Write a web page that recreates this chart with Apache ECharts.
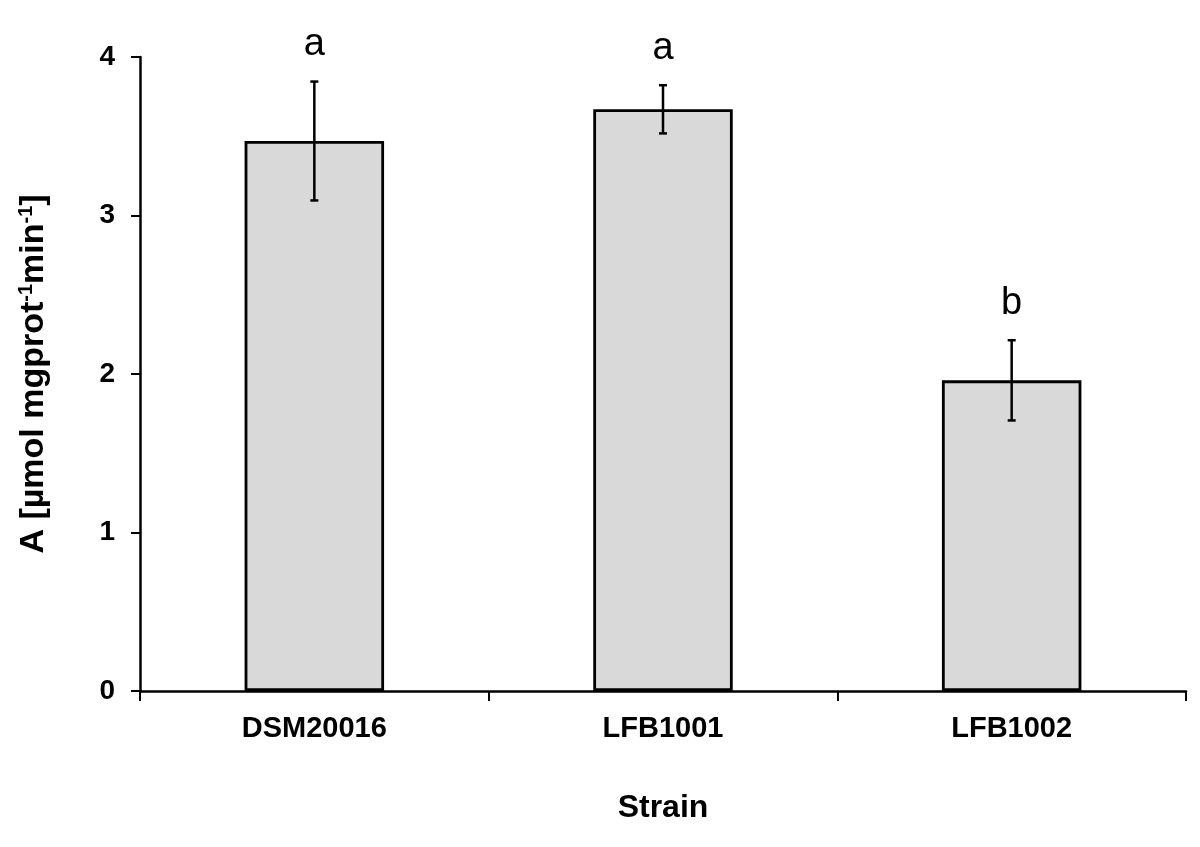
<!DOCTYPE html>
<html>
<head>
<meta charset="utf-8">
<script src="https://cdn.jsdelivr.net/npm/echarts@6/dist/echarts.min.js"></script>
<style>html,body{margin:0;padding:0;background:#fff;}#c{width:1200px;height:847px;}</style>
</head>
<body>
<div id="c"></div>
<script>
const categories = ['DSM20016', 'LFB1001', 'LFB1002'];
const means = [3.47, 3.67, 1.96];
const errors = [0.375, 0.152, 0.253];
const letters = ['a', 'a', 'b'];
const yTicks = [0, 1, 2, 3, 4];

const FONT = '"Liberation Sans", Arial, sans-serif';
const errData = categories.map((c, i) => [i, means[i] - errors[i], means[i] + errors[i], letters[i]]);

const chart = echarts.init(document.getElementById('c'));
chart.setOption({
  backgroundColor: '#fff',
  animation: false,
  grid: { left: 140, right: 14, top: 57, bottom: 156 },
  xAxis: {
    type: 'category',
    data: categories,
    axisLine: { show: true, lineStyle: { color: '#000', width: 2.5 } },
    axisTick: { show: true, interval: 0, alignWithLabel: false, length: 10, lineStyle: { color: '#000', width: 2 } },
    axisLabel: { color: '#000', fontFamily: FONT, fontWeight: 'bold', fontSize: 29, margin: 23 },
    name: 'Strain',
    nameLocation: 'middle',
    nameGap: 101,
    nameTextStyle: { color: '#000', fontFamily: FONT, fontWeight: 'bold', fontSize: 32 }
  },
  yAxis: {
    type: 'value',
    min: yTicks[0], max: yTicks[yTicks.length - 1], interval: 1,
    splitLine: { show: false },
    axisLine: { show: true, lineStyle: { color: '#000', width: 2.5 } },
    axisTick: { show: true, length: 9, lineStyle: { color: '#000', width: 2 } },
    axisLabel: { color: '#000', fontFamily: FONT, fontWeight: 'bold', fontSize: 28, margin: 25 },
    name: '{n|A [µmol mgprot}{s|-1}{n|min}{s|-1}{n|]}',
    nameLocation: 'middle',
    nameGap: 89,
    nameTextStyle: {
      rich: {
        n: { color: '#000', fontFamily: FONT, fontWeight: 'bold', fontSize: 34 },
        s: { color: '#000', fontFamily: FONT, fontWeight: 'bold', fontSize: 20, verticalAlign: 'top', padding: [0, 0, 15, 0] }
      }
    }
  },
  series: [
    {
      type: 'bar',
      data: means,
      barWidth: '40%',
      itemStyle: { color: '#d9d9d9', borderColor: '#000', borderWidth: 2.8 },
      z: 2
    },
    {
      type: 'custom',
      data: errData,
      z: 3,
      renderItem: function (params, api) {
        const x = api.value(0);
        const lo = api.coord([x, api.value(1)]);
        const hi = api.coord([x, api.value(2)]);
        const cap = 4;
        const st = { stroke: '#000', lineWidth: 2.5 };
        return {
          type: 'group',
          children: [
            { type: 'line', shape: { x1: hi[0], y1: hi[1], x2: lo[0], y2: lo[1] }, style: st },
            { type: 'line', shape: { x1: hi[0] - cap, y1: hi[1], x2: hi[0] + cap, y2: hi[1] }, style: st },
            { type: 'line', shape: { x1: lo[0] - cap, y1: lo[1], x2: lo[0] + cap, y2: lo[1] }, style: st },
            { type: 'text', style: { x: hi[0], y: hi[1] - 18, text: letters[params.dataIndex], fill: '#000', font: '38px ' + FONT, textAlign: 'center', textVerticalAlign: 'bottom' } }
          ]
        };
      }
    }
  ]
});
</script>
</body>
</html>
